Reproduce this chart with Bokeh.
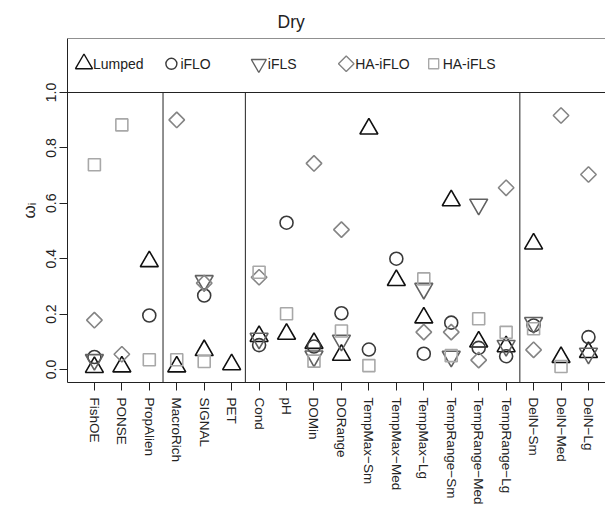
import math
from bokeh.plotting import figure
from bokeh.models import FixedTicker, Span, PrintfTickFormatter
from bokeh.core.properties import value
from bokeh.embed import file_html
from bokeh.resources import INLINE

nan = float("nan")

# ---- data -------------------------------------------------------------
names = ["FishOE", "PONSE", "PropAlien",
         "MacroRich", "SIGNAL", "PET",
         "Cond", "pH", "DOMin", "DORange",
         "TempMax\u2212Sm", "TempMax\u2212Med", "TempMax\u2212Lg",
         "TempRange\u2212Sm", "TempRange\u2212Med", "TempRange\u2212Lg",
         "DelN\u2212Sm", "DelN\u2212Med", "DelN\u2212Lg"]
group_sizes = [3, 3, 10, 3]

lumped  = [0.008, 0.010, 0.390, 0.010, 0.069, 0.018, 0.120, 0.128, 0.095, 0.052,
           0.869, 0.322, 0.187, 0.610, 0.100, 0.083, 0.454, 0.044, 0.062]
iflo    = [0.045, nan, 0.195, nan, 0.267, nan, 0.088, 0.530, 0.083, 0.203,
           0.072, 0.400, 0.057, 0.169, 0.078, 0.048, 0.159, nan, 0.117]
ifls    = [0.035, nan, nan, nan, 0.320, nan, 0.112, nan, 0.048, 0.105,
           nan, nan, 0.292, 0.047, 0.596, 0.086, 0.169, nan, 0.058]
ha_iflo = [0.178, 0.055, nan, 0.901, 0.312, nan, 0.333, nan, 0.744, 0.505,
           nan, nan, 0.135, 0.135, 0.034, 0.656, 0.071, 0.917, 0.704]
ha_ifls = [0.739, 0.883, 0.035, 0.035, 0.029, nan, 0.351, 0.201, 0.030, 0.139,
           0.014, nan, 0.327, 0.050, 0.183, 0.134, 0.147, 0.011, nan]

series_labels = ["Lumped", "iFLO", "iFLS", "HA-iFLO", "HA-iFLS"]
series_values = [lumped, iflo, ifls, ha_iflo, ha_ifls]
y_ticks = [0.0, 0.2, 0.4, 0.6, 0.8, 1.0]
title_text = "Dry"
y_label = "\u03c9\u1d62"

# ---- styles -----------------------------------------------------------
FONT = "Liberation Sans"
INK = "#222222"
styles = [
    dict(marker="triangle", size=18, color="#111111", angle=0.0),
    dict(marker="circle", size=13, color="#3a3a3a", angle=0.0),
    dict(marker="inverted_triangle", size=18, color="#626262", angle=0.0),
    dict(marker="square", size=11, color="#858585", angle=math.pi / 4),
    dict(marker="square", size=12, color="#a8a8a8", angle=0.0),
]
legend_sizes = [17, 11, 15, 11, 10]

x = list(range(1, len(names) + 1))
y_start, y_end = -0.047, 1.195

p = figure(width=605, height=511, x_range=(0.02, 19.62), y_range=(y_start, y_end),
           output_backend="svg", toolbar_location=None,
           min_border_left=67, min_border_right=0, min_border_top=38,
           min_border_bottom=129, title=title_text)
p.outline_line_color = None
p.grid.visible = False
p.background_fill_color = "white"
p.border_fill_color = "white"

p.title.text_font = FONT
p.title.text_font_size = "17.5px"
p.title.text_font_style = "normal"
p.title.text_color = INK
p.title.align = "left"
p.title.offset = 210
p.title.standoff = 13

# y axis
p.yaxis.ticker = FixedTicker(ticks=y_ticks)
p.yaxis.formatter = PrintfTickFormatter(format="%.1f")
p.yaxis.major_label_orientation = "vertical"
p.yaxis.major_tick_out = 8
p.yaxis.major_tick_in = 0
p.yaxis.minor_tick_line_color = None
p.yaxis.major_label_standoff = 3
p.yaxis.major_label_text_font = FONT
p.yaxis.major_label_text_font_size = "14px"
p.yaxis.major_label_text_color = INK
p.yaxis.axis_line_color = INK
p.yaxis.major_tick_line_color = INK
p.yaxis.axis_label = y_label
p.yaxis.axis_label_text_font = FONT
p.yaxis.axis_label_text_font_size = "17px"
p.yaxis.axis_label_text_font_style = "normal"
p.yaxis.axis_label_text_color = INK
p.yaxis.axis_label_standoff = 5

# x axis
p.xaxis.ticker = FixedTicker(ticks=x)
p.xaxis.major_label_overrides = {i: n for i, n in zip(x, names)}
p.xaxis.major_label_orientation = "vertical"
p.xaxis.major_tick_out = 8
p.xaxis.major_tick_in = 0
p.xaxis.minor_tick_line_color = None
p.xaxis.major_label_standoff = 7
p.xaxis.major_label_text_font = FONT
p.xaxis.major_label_text_font_size = "13.5px"
p.xaxis.major_label_text_color = INK
p.xaxis.axis_line_color = INK
p.xaxis.major_tick_line_color = INK

# frame lines: top, legend separator, group dividers
p.add_layout(Span(location=y_end, dimension="width", line_color=INK, line_width=1))
p.add_layout(Span(location=1.0, dimension="width", line_color=INK, line_width=1))
bounds = []
c = 0
for g in group_sizes[:-1]:
    c += g
    bounds.append(c + 0.5)
p.segment(x0=bounds, y0=[y_start] * len(bounds), x1=bounds, y1=[1.0] * len(bounds),
          line_color=INK, line_width=1)

# points
for vals, st in zip(series_values, styles):
    p.scatter(x=x, y=vals, marker=st["marker"], size=st["size"], angle=st["angle"],
              fill_color=None, line_color=st["color"], line_width=1.6)

# legend in the top band
leg_x0, leg_pitch, leg_y = 0.62, 3.185, 1.1036
for i, (lab, st) in enumerate(zip(series_labels, styles)):
    lx = leg_x0 + i * leg_pitch
    p.scatter(x=[lx], y=[leg_y], marker=st["marker"], size=legend_sizes[i], angle=st["angle"],
              fill_color=None, line_color=st["color"], line_width=1.4)
    p.text(x=[lx], y=[leg_y], text=[lab], x_offset=9, text_align="left",
           text_baseline="middle", text_font=value(FONT), text_font_size="14px",
           text_color=INK)

open("out.html", "w").write(file_html(p, INLINE))
